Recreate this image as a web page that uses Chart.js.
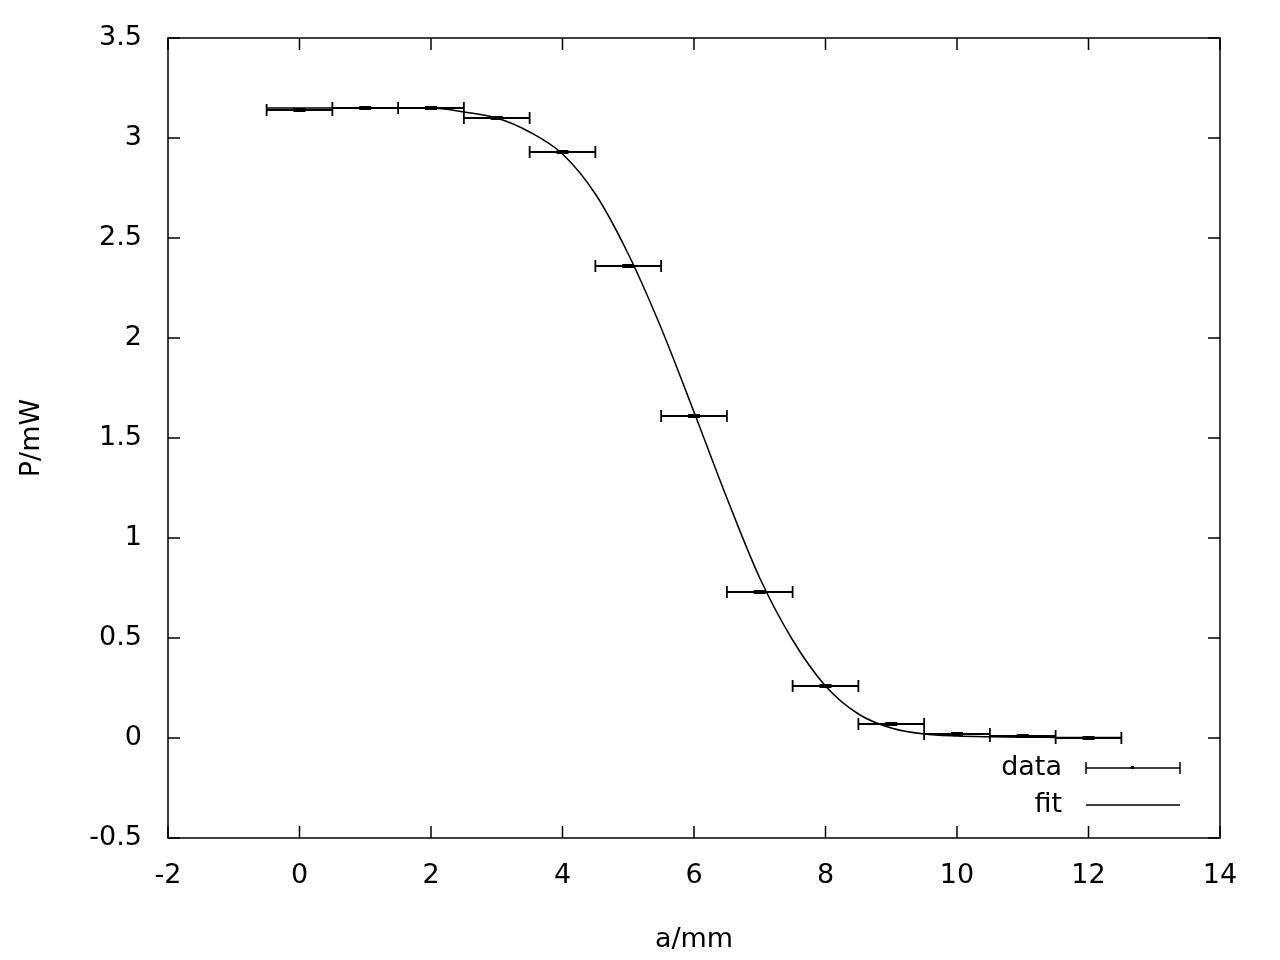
<!DOCTYPE html>
<html><head><meta charset="utf-8">
<script src="https://cdn.jsdelivr.net/npm/chart.js@4"></script>
<style>html,body{margin:0;background:#fff}#w{width:1280px;height:960px}</style>
</head><body><div id="w"><canvas id="c"></canvas></div>
<script>
const xs=[0,1,2,3,4,5,6,7,8,9,10,11,12];
const ys=[3.14,3.15,3.15,3.10,2.93,2.36,1.61,0.73,0.26,0.07,0.02,0.01,0.00];
const xerr=[0.5,0.5,0.5,0.5,0.5,0.5,0.5,0.5,0.5,0.5,0.5,0.5,0.5];
const yerr=[0.006,0.006,0.006,0.006,0.006,0.006,0.006,0.006,0.006,0.006,0.006,0.006,0.006];
const fitX=[-0.5,0,0.5,1,1.5,2,2.5,3,3.5,4,4.5,5,5.5,6,6.5,7,7.5,8,8.5,9,9.5,10,10.5,11,11.5,12,12.5];
const fitY=[3.15,3.15,3.15,3.15,3.15,3.15,3.13,3.10,3.03,2.92,2.72,2.42,2.05,1.63,1.20,0.80,0.49,0.26,0.12,0.05,0.02,0.01,0.006,0.004,0.003,0.002,0.002];
const xTicks=[-2,0,2,4,6,8,10,12,14];
const yTicks=[-0.5,0,0.5,1,1.5,2,2.5,3,3.5];
const FONT='"DejaVu Sans", sans-serif';
const plug={id:'gp',afterDatasetsDraw(ch){
 const c=ch.ctx,x=ch.scales.x,y=ch.scales.y,a=ch.chartArea;
 c.save();c.strokeStyle='#000';c.lineWidth=1.5;
 c.strokeRect(a.left,a.top,a.right-a.left,a.bottom-a.top);
 c.beginPath();
 xTicks.forEach(t=>{const p=x.getPixelForValue(t);c.moveTo(p,a.bottom);c.lineTo(p,a.bottom-12);c.moveTo(p,a.top);c.lineTo(p,a.top+12);});
 yTicks.forEach(t=>{const p=y.getPixelForValue(t);c.moveTo(a.left,p);c.lineTo(a.left+12,p);c.moveTo(a.right,p);c.lineTo(a.right-12,p);});
 c.stroke();
 c.lineWidth=1.8;c.beginPath();
 xs.forEach((v,i)=>{const px=x.getPixelForValue(v),py=y.getPixelForValue(ys[i]);
  const l=x.getPixelForValue(v-xerr[i]),r=x.getPixelForValue(v+xerr[i]);
  c.moveTo(l,py);c.lineTo(r,py);c.moveTo(l,py-6);c.lineTo(l,py+6);c.moveTo(r,py-6);c.lineTo(r,py+6);
  const t=y.getPixelForValue(ys[i]+yerr[i]),b=y.getPixelForValue(ys[i]-yerr[i]);
  c.moveTo(px,t);c.lineTo(px,b);c.moveTo(px-6,t);c.lineTo(px+6,t);c.moveTo(px-6,b);c.lineTo(px+6,b);
 });
 c.stroke();
 c.font='27px '+FONT;c.fillStyle='#000';c.textAlign='right';c.textBaseline='middle';
 c.fillText('data',1062,768);c.fillText('fit',1062,805);
 c.lineWidth=1.5;c.beginPath();c.moveTo(1086,768);c.lineTo(1180,768);c.moveTo(1086,762);c.lineTo(1086,774);c.moveTo(1180,762);c.lineTo(1180,774);
 c.moveTo(1086,805);c.lineTo(1180,805);c.stroke();
 c.fillRect(1131,766,3,3);
 c.restore();}};
new Chart(document.getElementById('c'),{type:'scatter',
 data:{datasets:[
  {label:'fit',data:fitX.map((v,i)=>({x:v,y:fitY[i]})),showLine:true,borderColor:'#000',borderWidth:1.5,pointRadius:0,cubicInterpolationMode:'monotone'},
  {label:'data',data:xs.map((v,i)=>({x:v,y:ys[i]})),pointRadius:1,backgroundColor:'#000',borderColor:'#000'}]},
 options:{responsive:true,maintainAspectRatio:false,animation:false,
  layout:{padding:{top:38,right:60,left:0,bottom:0}},
  plugins:{legend:{display:false},tooltip:{enabled:false}},
  scales:{
   x:{type:'linear',min:-2,max:14,afterBuildTicks(s){s.ticks=xTicks.map(v=>({value:v}));},
    afterFit(s){s.height=122;},grid:{display:false},border:{display:false},
    ticks:{color:'#000',font:{family:FONT,size:27},padding:14,maxRotation:0,callback:v=>String(v)},
    title:{display:true,text:'a/mm',color:'#000',font:{family:FONT,size:27},padding:{top:8}}},
   y:{type:'linear',min:-0.5,max:3.5,afterBuildTicks(s){s.ticks=yTicks.map(v=>({value:v}));},
    afterFit(s){s.width=168;},grid:{display:false},border:{display:false},
    ticks:{color:'#000',font:{family:FONT,size:27},padding:18,callback:v=>String(v)},
    title:{display:true,text:'P/mW',color:'#000',font:{family:FONT,size:27},padding:{top:16,bottom:40}}}}},
 plugins:[plug]});
</script></body></html>
